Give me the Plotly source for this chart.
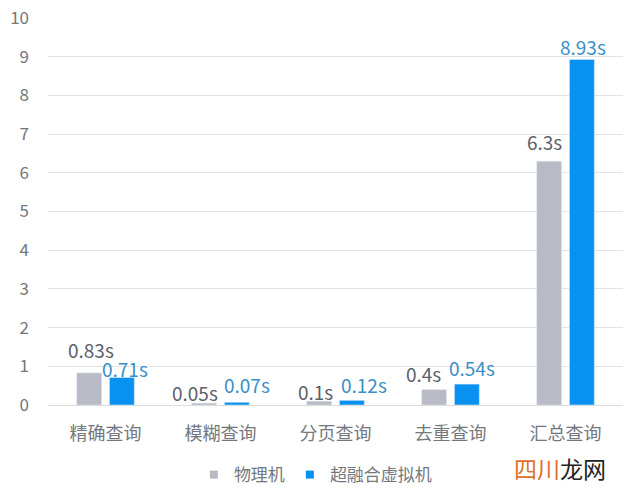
import plotly.graph_objects as go

categories = ["精确查询", "模糊查询", "分页查询", "去重查询", "汇总查询"]
physical = [0.83, 0.05, 0.1, 0.4, 6.3]
virtual = [0.71, 0.07, 0.12, 0.54, 8.93]
physical_labels = ["0.83s", "0.05s", "0.1s", "0.4s", "6.3s"]
virtual_labels = ["0.71s", "0.07s", "0.12s", "0.54s", "8.93s"]
y_ticks = [0, 1, 2, 3, 4, 5, 6, 7, 8, 9, 10]

# label placement styles (pixel nudges relative to each bar's top centre)
BAR_HALF_OFFSET = 16.5
phys_dx = [1.5, -9, -3.5, -11, -4.5]
phys_dy = [23, 11, 10, 16, 20]
virt_dx = [3, 10, 12, 4.5, 0.5]
virt_dy = [9, 18, 16, 17, 13]

FONT = "Noto Sans CJK SC, Noto Sans, sans-serif"
GRAY = "#b8bbc6"
BLUE = "#0991f2"

fig = go.Figure()
fig.add_trace(go.Bar(name="物理机", x=categories, y=physical,
                     marker_color=GRAY, showlegend=False, hoverinfo="x+y"))
fig.add_trace(go.Bar(name="超融合虚拟机", x=categories, y=virtual,
                     marker_color=BLUE, showlegend=False, hoverinfo="x+y"))
# legend entries with small square swatches
fig.add_trace(go.Scatter(name="物理机", x=[None], y=[None], mode="markers",
                         marker=dict(symbol="square", size=8, color=GRAY)))
fig.add_trace(go.Scatter(name="超融合虚拟机", x=[None], y=[None], mode="markers",
                         marker=dict(symbol="square", size=8, color=BLUE)))

for i, c in enumerate(categories):
    fig.add_annotation(x=c, y=physical[i], xref="x", yref="y", text=physical_labels[i],
                       showarrow=False, xanchor="center", yanchor="middle",
                       xshift=-BAR_HALF_OFFSET + phys_dx[i], yshift=phys_dy[i],
                       font=dict(size=19, color="#5c6068", family=FONT))
    fig.add_annotation(x=c, y=virtual[i], xref="x", yref="y", text=virtual_labels[i],
                       showarrow=False, xanchor="center", yanchor="middle",
                       xshift=BAR_HALF_OFFSET + virt_dx[i], yshift=virt_dy[i],
                       font=dict(size=19, color="#3a8fc6", family=FONT))

fig.update_layout(
    width=640, height=499,
    margin=dict(l=48, r=17, t=18, b=94, autoexpand=False),
    paper_bgcolor="white", plot_bgcolor="white",
    barmode="group", bargap=0.43, bargroupgap=0.24,
    font=dict(family=FONT, color="#74777d", size=17),
    showlegend=True,
    legend=dict(orientation="h", x=0.465, xanchor="center", y=-0.181, yanchor="middle",
                font=dict(size=17, color="#74777d"), itemwidth=30,
                traceorder="normal"),
)
fig.update_xaxes(showgrid=False, showline=True, linecolor="#dcdcdc", linewidth=1,
                 ticks="", ticklabelstandoff=12, tickfont=dict(size=18, color="#74777d"))
fig.update_yaxes(range=[0, 10], tickvals=y_ticks, showgrid=True, gridcolor="#e3e3e3",
                 gridwidth=1, zeroline=False, ticks="", ticklen=0, ticklabelstandoff=18,
                 tickfont=dict(size=17, color="#74777d"), showline=False)

fig.add_annotation(text="<span style='color:#e0702a'>四川</span><span style='color:#222'>龙网</span>",
                   xref="paper", yref="paper", x=0.974, y=-0.163, xanchor="right", yanchor="middle",
                   showarrow=False, font=dict(size=23, family=FONT))

fig.write_html("out.html", config={"displayModeBar": False},
               post_script="document.body.style.margin='0';")
